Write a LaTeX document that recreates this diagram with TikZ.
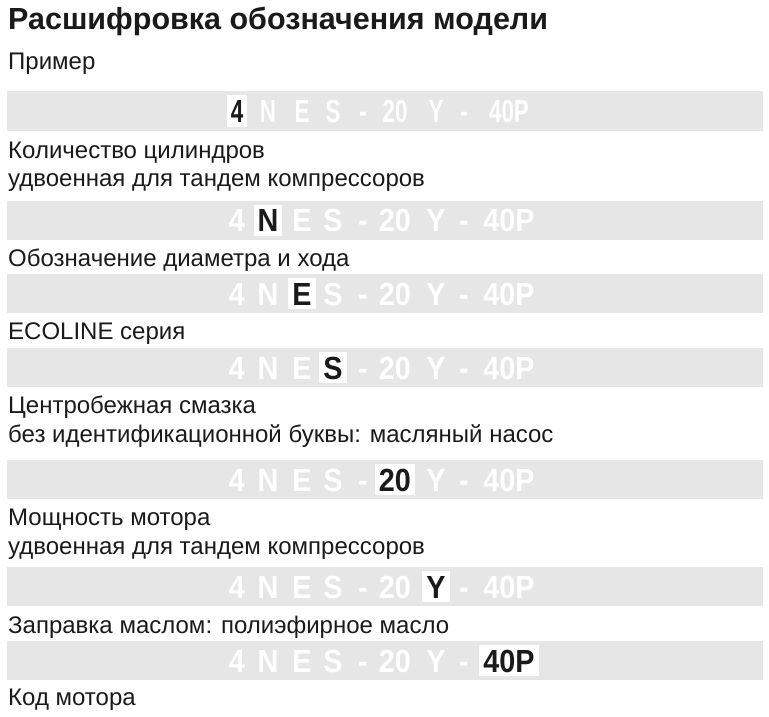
\documentclass[tikz,border=0pt]{standalone}
\usepackage{fontspec}
\setmainfont{Liberation Sans}
\newfontfamily\codefont[FakeStretch=0.9]{Liberation Sans}
\newfontfamily\narrowfont[FakeStretch=0.7]{Liberation Sans}
\definecolor{bargray}{HTML}{E6E6E6}
\definecolor{ink}{HTML}{1A1A1A}

% one line of the model code, letter number #4 is picked out
\newcommand\modelcode[4][]{%
  \node[codebar] (#2) at (385,#3) {};
  \foreach \x/\t [count=\i] in {237/4,268/N,302/E,333/S,363/-,395/20,436/Y,464/-,509/40P}{
    \ifnum\i=#4 \node[code,#1,pick] (#2-\i) at (\x,#3) {\t};
    \else \node[code,#1] (#2-\i) at (\x,#3) {\t}; \fi
  }
}

\begin{document}
\begin{tikzpicture}
[
    x=1pt, y=-1pt,
    every node/.style={inner sep=0pt},
    heading/.style={anchor=base west,font=\fontsize{30.5}{34}\selectfont\bfseries,text=ink},
    caption/.style={anchor=base west,font=\fontsize{24}{28}\selectfont,text=ink},
    codebar/.style={fill=bargray,minimum width=756pt,minimum height=39pt},
    code/.style={font=\codefont\fontsize{32}{34}\selectfont\bfseries,text=white,
        text height=23pt,text depth=0pt},
    pick/.style={fill=white,text=ink,inner xsep=4pt,inner ysep=4pt},
    narrow/.style={font=\narrowfont\fontsize{32}{34}\selectfont\bfseries},
]
\useasboundingbox (0,0) rectangle (769,717);

\node[heading] (title) at (8,30) {Расшифровка обозначения модели};
\node[caption] (example) at (8,70) {Пример};
\modelcode[narrow]{cyl}{111}{1}
\node[caption] (cyl-a) at (8,158) {Количество цилиндров};
\node[caption] (cyl-b) at (8,186) {удвоенная для тандем компрессоров};
\modelcode{bore}{220}{2}
\node[caption] (bore-a) at (8,266) {Обозначение диаметра и хода};
\modelcode{series}{293.5}{3}
\node[caption] (series-a) at (8,339) {ECOLINE серия};
\modelcode{lube}{367.5}{4}
\node[caption] (lube-a) at (8,413) {Центробежная смазка};
\node[caption] (lube-b) at (8,442) {без идентификационной буквы: масляный насос};
\modelcode{power}{479.5}{6}
\node[caption] (power-a) at (8,525) {Мощность мотора};
\node[caption] (power-b) at (8,554) {удвоенная для тандем компрессоров};
\modelcode{oil}{586.5}{7}
\node[caption] (oil-a) at (8,633) {Заправка маслом: полиэфирное масло};
\modelcode{motor}{660.5}{9}
\node[caption] (motor-a) at (8,705) {Код мотора};
\end{tikzpicture}
\end{document}
